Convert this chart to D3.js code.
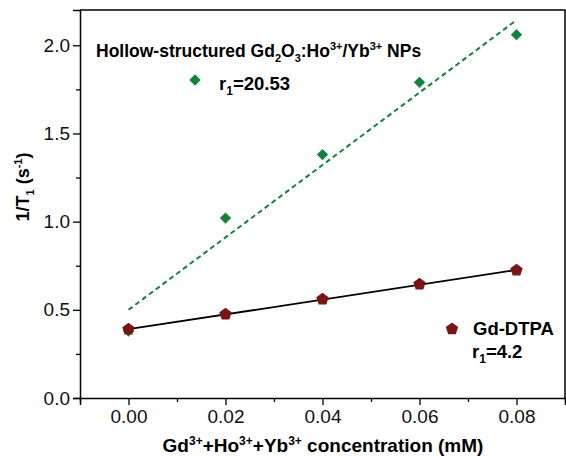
<body style="margin:0;background:#fff">
<script src="https://cdn.jsdelivr.net/npm/d3@7"></script>
<script>
// concentration (mM)
var conc = [0.00, 0.02, 0.04, 0.06, 0.08];
// 1/T1 values
var hollowR = [0.38, 1.02, 1.38, 1.79, 2.06];
var dtpaR = [0.39, 0.475, 0.56, 0.645, 0.725];
// linear fits
var hollowFit = {intercept: 0.50, slope: 20.53};
var dtpaFit = {intercept: 0.39, slope: 4.2};
var xTicks = [0.00, 0.02, 0.04, 0.06, 0.08];
var yTicks = [0.0, 0.5, 1.0, 1.5, 2.0];

var W = 566, H = 456;
var m = {left: 80, right: 1, top: 10, bottom: 58};
var green = "#14823f", red = "#7b1414";

var svg = d3.select("body").append("svg").attr("width", W).attr("height", H)
    .style("font-family", "Liberation Sans, Arial, sans-serif");

var x = d3.scaleLinear().domain([-0.01, 0.09]).range([m.left, W - m.right]);
var y = d3.scaleLinear().domain([0, 2.2]).range([H - m.bottom, m.top]);

// minor ticks
var xMinor = d3.range(-0.01, 0.0901, 0.01).filter(v => Math.abs(Math.round(v * 100) % 2) === 1);
var yMinor = d3.range(0.25, 2.2, 0.5);

var xg = svg.append("g").attr("transform", "translate(0," + y.range()[0] + ")");
xg.call(d3.axisBottom(x).tickValues(xTicks).tickFormat(d3.format(".2f")).tickSize(7).tickPadding(5));
xg.append("g").call(d3.axisBottom(x).tickValues(xMinor).tickFormat("").tickSize(4))
  .select(".domain").remove();

var yg = svg.append("g").attr("transform", "translate(" + m.left + ",0)");
yg.call(d3.axisLeft(y).tickValues(yTicks).tickFormat(d3.format(".1f")).tickSize(7).tickPadding(3));
yg.append("g").call(d3.axisLeft(y).tickValues(yMinor).tickFormat("").tickSize(4))
  .select(".domain").remove();

svg.selectAll(".domain").attr("stroke-width", 1.5);
svg.selectAll(".tick line").attr("stroke-width", 1.3);
svg.selectAll(".tick text").attr("font-size", 19).attr("fill", "#111")
  .style("font-family", "Liberation Sans, Arial, sans-serif");

// frame top and right
svg.append("path")
  .attr("d", "M" + x.range()[0] + "," + y.range()[1] + "H" + x.range()[1] + "V" + y.range()[0])
  .attr("fill", "none").attr("stroke", "#000").attr("stroke-width", 1.5);

// fit lines
var line = d3.line().x(d => x(d[0])).y(d => y(d[1]));
svg.append("path")
  .datum([0, 0.08].map(c => [c, hollowFit.intercept + hollowFit.slope * c]))
  .attr("d", line).attr("fill", "none").attr("stroke", green)
  .attr("stroke-width", 2).attr("stroke-dasharray", "5,3.5");
svg.append("path")
  .datum([0, 0.08].map(c => [c, dtpaFit.intercept + dtpaFit.slope * c]))
  .attr("d", line).attr("fill", "none").attr("stroke", "#000").attr("stroke-width", 1.8);

// symbols
var pentagon = {
  draw: function(ctx, size) {
    var r = Math.sqrt(size / 2.378);
    for (var i = 0; i < 5; i++) {
      var a = -Math.PI / 2 + i * 2 * Math.PI / 5;
      if (i === 0) ctx.moveTo(r * Math.cos(a), r * Math.sin(a));
      else ctx.lineTo(r * Math.cos(a), r * Math.sin(a));
    }
    ctx.closePath();
  }
};
var diamond = d3.symbol().type(d3.symbolSquare).size(64);
var penta = d3.symbol().type(pentagon).size(100);

svg.append("g").selectAll("path").data(conc).enter().append("path")
  .attr("d", diamond)
  .attr("transform", (d, i) => "translate(" + x(d) + "," + y(hollowR[i]) + ") rotate(45)")
  .attr("fill", green);
svg.append("g").selectAll("path").data(conc).enter().append("path")
  .attr("d", penta)
  .attr("transform", (d, i) => "translate(" + x(d) + "," + y(dtpaR[i]) + ")")
  .attr("fill", red);

// rich text helper: parts are [text, "sub"|"sup"|undefined]
function rich(sel, parts, small) {
  var shift = 0;
  parts.forEach(function(p) {
    var target = p[1] === "sub" ? 5 : p[1] === "sup" ? -7 : 0;
    var t = sel.append("tspan").text(p[0]).attr("dy", target - shift);
    if (p[1]) t.attr("font-size", small);
    shift = target;
  });
}

var bold = 19, small = 12;

var t1 = svg.append("text").attr("x", 96).attr("y", 57)
  .attr("font-weight", "bold").attr("font-size", 17.5);
rich(t1, [["Hollow-structured Gd"], ["2", "sub"], ["O"], ["3", "sub"], [":Ho"], ["3+", "sup"],
  ["/Yb"], ["3+", "sup"], [" NPs"]], 11);

svg.append("path").attr("d", diamond)
  .attr("transform", "translate(195,80) rotate(45)").attr("fill", green);
var t2 = svg.append("text").attr("x", 219).attr("y", 90)
  .attr("font-weight", "bold").attr("font-size", 18.5);
rich(t2, [["r"], ["1", "sub"], ["=20.53"]], small);

svg.append("path").attr("d", penta)
  .attr("transform", "translate(452,329)").attr("fill", red);
svg.append("text").attr("x", 473).attr("y", 335)
  .attr("font-weight", "bold").attr("font-size", 18.5).text("Gd-DTPA");
var t3 = svg.append("text").attr("x", 472).attr("y", 358)
  .attr("font-weight", "bold").attr("font-size", 18.5);
rich(t3, [["r"], ["1", "sub"], ["=4.2"]], small);

// axis titles
var xl = svg.append("text").attr("x", 323).attr("y", 452).attr("text-anchor", "middle")
  .attr("font-weight", "bold").attr("font-size", bold);
rich(xl, [["Gd"], ["3+", "sup"], ["+Ho"], ["3+", "sup"], ["+Yb"], ["3+", "sup"],
  [" concentration (mM)"]], small);

var yl = svg.append("text").attr("transform", "translate(29,187) rotate(-90)")
  .attr("text-anchor", "middle").attr("font-weight", "bold").attr("font-size", 18);
rich(yl, [["1/T"], ["1", "sub"], [" (s"], ["-1", "sup"], [")"]], 11);
</script>
</body>
